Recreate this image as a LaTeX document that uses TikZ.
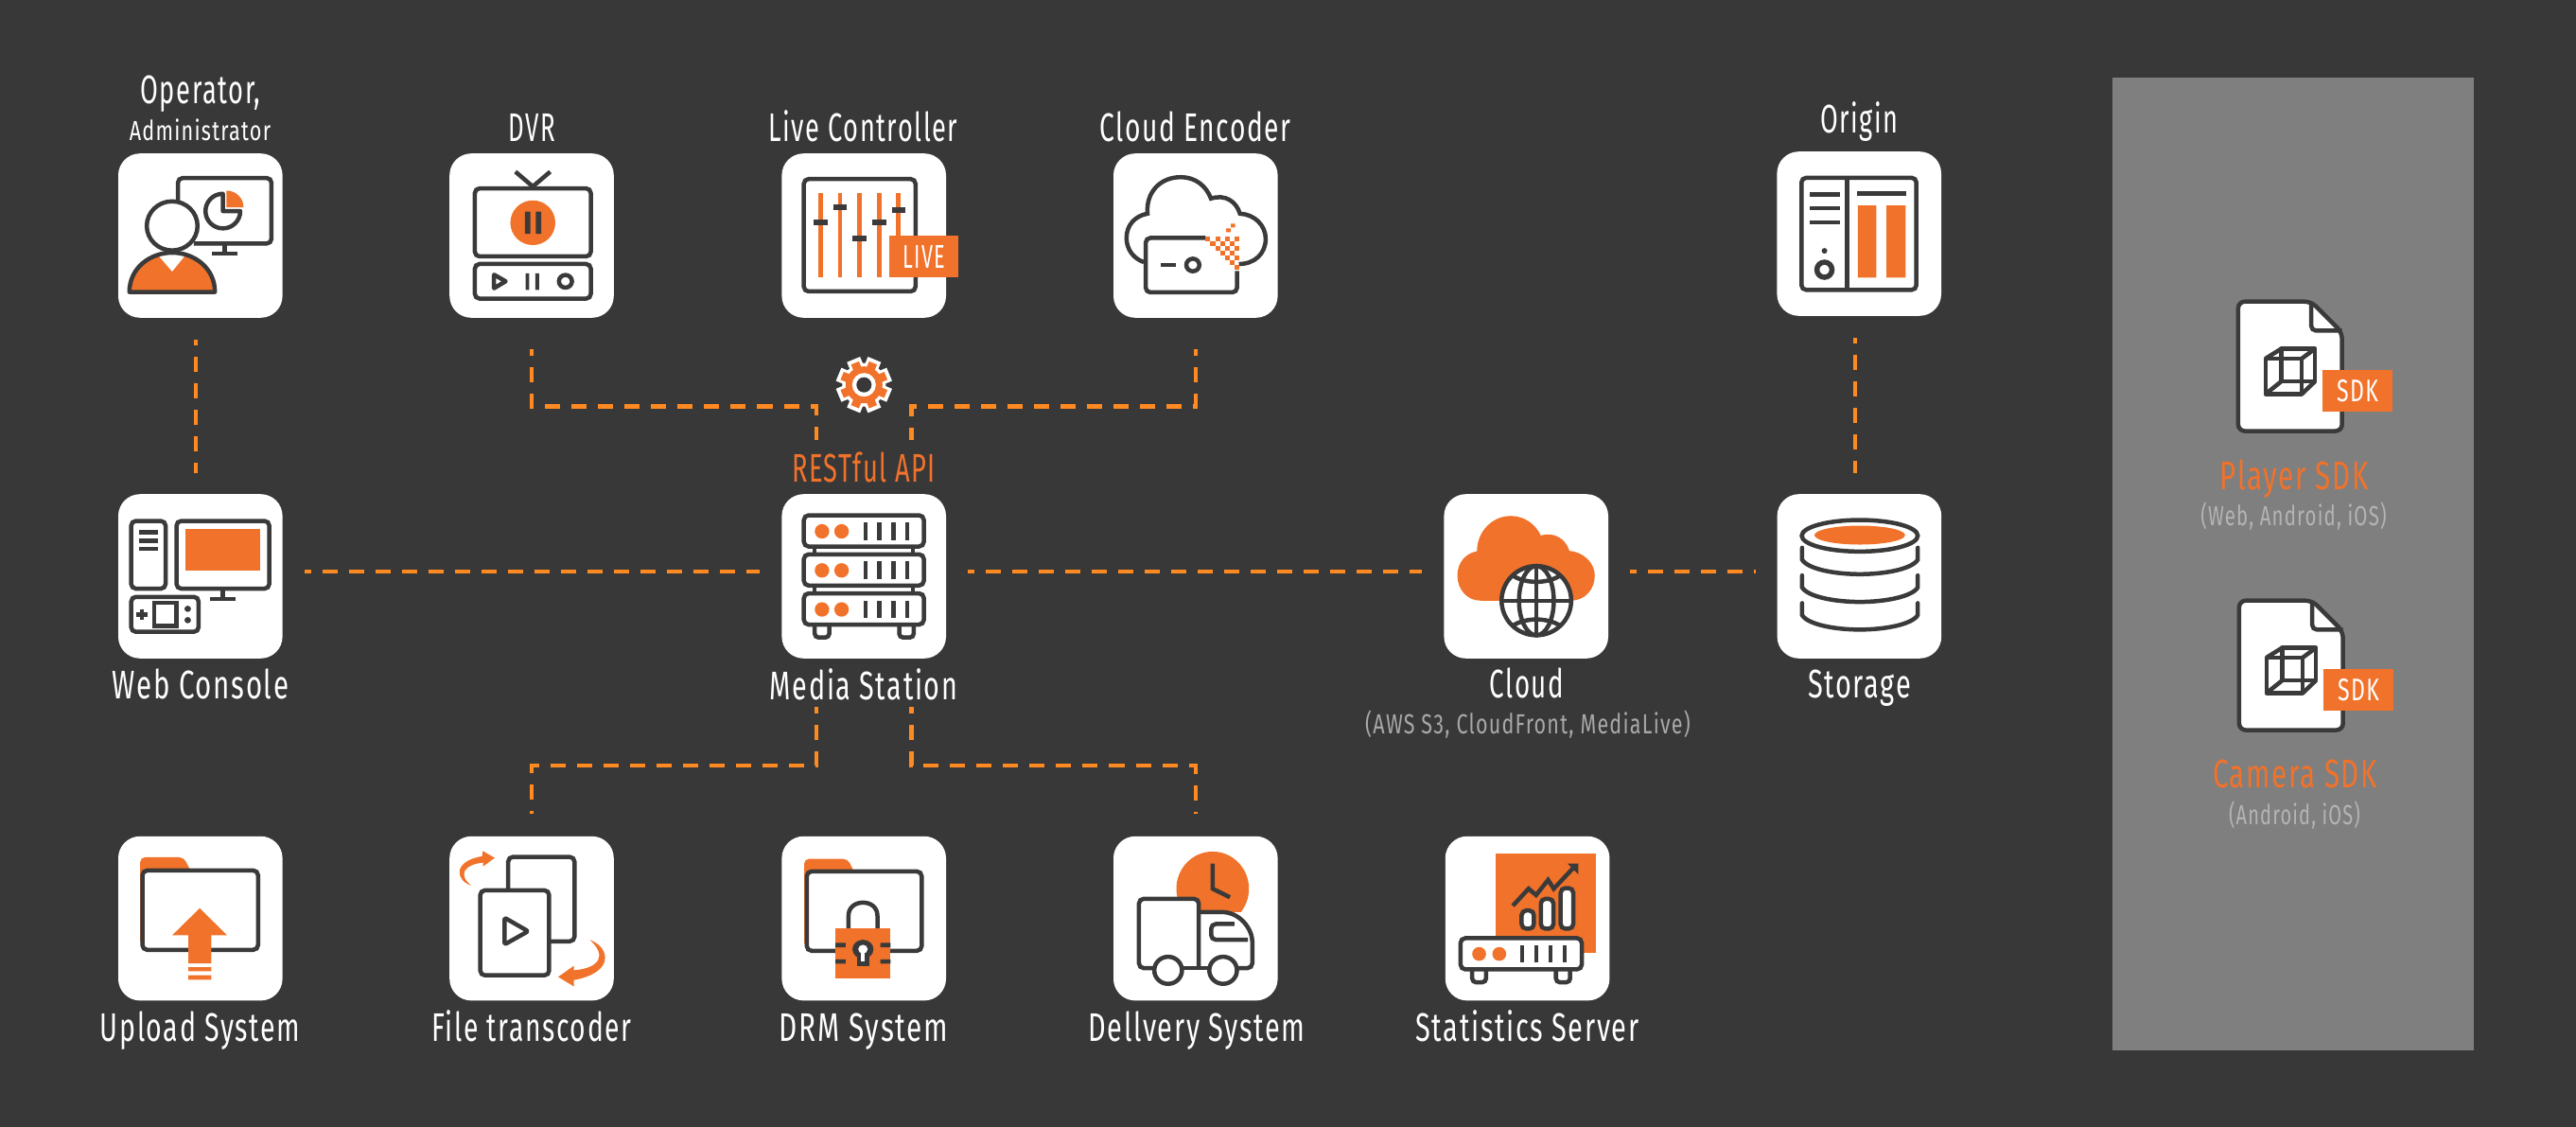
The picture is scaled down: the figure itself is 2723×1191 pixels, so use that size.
\documentclass[tikz,border=0pt]{standalone}
\usepackage{fontspec}
\newfontfamily\labf[FakeStretch=0.70,LetterSpace=4]{Fira Sans}
\newcommand{\hs}[2]{\scalebox{#1}[1]{#2}}
\definecolor{bgc}{HTML}{383838}
\definecolor{ic}{HTML}{3A3A3A}
\definecolor{org}{HTML}{F1722A}
\definecolor{dashc}{HTML}{FF8A22}
\definecolor{panelc}{HTML}{7F7F7F}
\definecolor{subc}{HTML}{A8A8A8}
\definecolor{subd}{HTML}{B4B4B4}
\tikzset{
  iconbox/.style={fill=white,rounded corners=0.23cm,minimum width=1.735cm,minimum height=1.735cm,inner sep=0,outer sep=0},
  lab/.style={anchor=base,inner sep=0,outer sep=0,text=white,font=\labf\fontsize{12}{14}\selectfont},
  smalllab/.style={lab,font=\labf\fontsize{8.3}{10}\selectfont},
  sublab/.style={lab,text=subc,font=\labf\fontsize{8.3}{10}\selectfont},
  sdklab/.style={lab,text=org,font=\labf\fontsize{12}{14}\selectfont},
  sdksub/.style={lab,text=subd,font=\labf\fontsize{8.3}{10}\selectfont},
  conn/.style={draw=dashc,line width=0.042cm,dash pattern=on 0.16cm off 0.12cm,dash phase=0.09cm},
  ln/.style={draw=ic,line width=0.045cm,rounded corners=0.05cm},
  lnw/.style={ln,fill=white},
  plain/.style={draw=ic,line width=0.045cm},
  zA/.style={x=0.003827cm,y=-0.003333cm},
  zB/.style={x=0.003333cm,y=-0.003333cm},
  zC/.style={x=0.003954cm,y=-0.003333cm},
  zD/.style={x=0.003333cm,y=-0.003827cm},
}
\newcommand{\sdkicon}[3]{%
\begin{scope}[shift={(#1,#2)},shift={(2300,290)},zD]
  \path[lnw,rounded corners=0.07cm] (198,75) -- (430,75) -- (528,160) -- (528,432) -- (198,432) -- cycle;
  \draw[ln,rounded corners=0.05cm] (430,75) -- (430,155) -- (528,155);
  \draw[plain,line join=round] (285,232) rectangle (400,330);
  \draw[plain,line join=round] (335,205) rectangle (442,295);
  \draw[plain] (285,232) -- (335,205) (400,232) -- (442,205) (285,330) -- (335,295) (400,330) -- (442,295);
  \fill[org] (467,263) rectangle (687,378);
  \node[lab,anchor=center,font=\labf\fontsize{9.4}{11}\selectfont] (#3) at (577,320) {SDK};
\end{scope}}
\begin{document}
\begin{tikzpicture}[x=0.01cm,y=-0.01cm]
\useasboundingbox (0,0) rectangle (2723,1191);
\fill[bgc] (0,0) rectangle (2723,1191);
\fill[panelc] (2233,82) rectangle (2615,1110);

% boxes
\node[iconbox] (op) at (211.8,249) {};
\node[iconbox] (dvr) at (562,249) {};
\node[iconbox] (live) at (913.2,249) {};
\node[iconbox] (enc) at (1263.8,249) {};
\node[iconbox] (origin) at (1965.2,247) {};
\node[iconbox] (web) at (211.8,609) {};
\node[iconbox] (media) at (913.2,609) {};
\node[iconbox] (cloud) at (1613.2,609) {};
\node[iconbox] (storage) at (1965.4,609) {};
\node[iconbox] (upload) at (211.8,970.6) {};
\node[iconbox] (file) at (562,970.6) {};
\node[iconbox] (drm) at (913.2,970.6) {};
\node[iconbox] (deliv) at (1263.8,970.6) {};
\node[iconbox] (stats) at (1614.6,970.6) {};

% labels
\node[lab] (tOp) at (212,110) {\hs{.922}{Operator,}};
\node[smalllab] (tAdm) at (211.5,149) {\hs{1.059}{Administrator}};
\node[lab] (tDvr) at (562,150) {\hs{.874}{DVR}};
\node[lab] (tLive) at (912.5,149.5) {\hs{.921}{Live Controller}};
\node[lab] (tEnc) at (1263.5,149.5) {\hs{.954}{Cloud Encoder}};
\node[lab] (tOrigin) at (1965.5,140.5) {\hs{.918}{Origin}};
\node[lab] (tWeb) at (212,738) {\hs{.996}{Web Console}};
\node[lab,text=org] (tRest) at (913,509) {\hs{.924}{RESTful API}};
\node[lab] (tMedia) at (913,739) {\hs{.973}{Media Station}};
\node[lab] (tCloud) at (1614,737) {\hs{.939}{Cloud}};
\node[sublab] (tAws) at (1615,775) {\hs{1.054}{(AWS S3, CloudFront, MediaLive)}};
\node[lab] (tStorage) at (1965.5,737) {\hs{.98}{Storage}};
\node[lab] (tUp) at (211.5,1100.7) {\hs{.968}{Upload System}};
\node[lab] (tFile) at (562,1100.7) {\hs{.958}{File transcoder}};
\node[lab] (tDrm) at (913,1100.7) {\hs{1.009}{DRM System}};
\node[lab] (tDel) at (1265,1100.7) {\hs{.98}{Dellvery System}};
\node[lab] (tStat) at (1614.5,1100.7) {\hs{.98}{Statistics Server}};
\node[sdklab] (tPlay) at (2425,517) {Player SDK};
\node[sdksub] (tPlaySub) at (2424.5,555) {(Web, Android, iOS)};
\node[sdklab] (tCam) at (2426,832.7) {Camera SDK};
\node[sdksub] (tCamSub) at (2425.5,871) {\hs{.98}{(Android, iOS)}};

% connectors
\coordinate (rowy) at (0,604);
\coordinate (elbTop) at (0,429.5);
\coordinate (elbBot) at (0,809);
\coordinate (mlx) at (863,0);
\coordinate (mrx) at (963.5,0);
\coordinate (opx) at (207,0);
\coordinate (orx) at (1961,0);
\draw[conn,shorten <=0.23cm,shorten >=0.23cm] (web.east |- rowy) -- (media.west |- rowy);
\draw[conn,shorten <=0.23cm,shorten >=0.23cm] (media.east |- rowy) -- (cloud.west |- rowy);
\draw[conn,shorten <=0.23cm,shorten >=0.23cm,dash phase=0.09cm] (cloud.east |- rowy) -- (storage.west |- rowy);
\draw[conn,dash phase=0.10cm,shorten <=0.23cm,shorten >=0.22cm] (op.south -| opx) -- (web.north -| opx);
\draw[conn,dash phase=0.10cm,shorten <=0.23cm,shorten >=0.22cm] (origin.south -| orx) -- (storage.north -| orx);
\draw[conn,shorten <=0.33cm,shorten >=0.57cm] (dvr.south) -- (dvr.south |- elbTop) -- (mlx |- elbTop) -- (media.north -| mlx);
\draw[conn,shorten <=0.33cm,shorten >=0.57cm] (enc.south) -- (enc.south |- elbTop) -- (mrx |- elbTop) -- (media.north -| mrx);
\draw[conn,shorten <=0.51cm,shorten >=0.24cm] (media.south -| mlx) -- (mlx |- elbBot) -- (file.north |- elbBot) -- (file.north);
\draw[conn,shorten <=0.51cm,shorten >=0.24cm] (media.south -| mrx) -- (mrx |- elbBot) -- (deliv.north |- elbBot) -- (deliv.north);

% gear
\begin{scope}[shift={(913.3,406.7)}]
  \coordinate (gear) at (0,0);
  \foreach \a in {0,45,...,315}{\fill[white,rotate=\a+22.5] (-7.5,-20) rectangle (7.5,-29);}
  \fill[white] (0,0) circle[radius=23];
  \foreach \a in {0,45,...,315}{\fill[org,rotate=\a+22.5] (-4.5,-17) rectangle (4.5,-25);}
  \fill[org] (0,0) circle[radius=19.5];
  \fill[white] (0,0) circle[radius=12.5];
  \fill[bgc] (0,0) circle[radius=8];
\end{scope}

% operator + DVR
\begin{scope}[shift={(90,60)},zA]
  \draw[ln] (256,470) -- (256,385) -- (514,385) -- (514,593) -- (300,593);
  \draw[plain] (385,593) -- (385,625) (350,625) -- (420,625);
  \fill[org] (390,478) -- (390,425) arc[start angle=-90,end angle=0,x radius=47,y radius=53] -- cycle;
  \draw[plain,fill=white,line join=round] (380,490) -- (380,435) arc[start angle=-90,end angle=-360,x radius=48,y radius=55] -- cycle;
  \fill[org] (122,747) .. controls (122,670) and (180,622) .. (240,622) .. controls (300,622) and (358,670) .. (358,747) -- cycle;
  \fill[white] (200,628) -- (240,682) -- (278,628) -- cycle;
  \draw[plain,line join=round] (122,747) .. controls (122,670) and (180,622) .. (240,622) .. controls (300,622) and (358,670) .. (358,747) -- cycle;
  \draw[plain,fill=white] (240,537) ellipse[x radius=70,y radius=78];
  % DVR
  \draw[plain] (1187,365) -- (1235,412) -- (1283,365);
  \draw[ln] (1075,418) rectangle (1395,634);
  \fill[org] (1235,527) ellipse[x radius=62,y radius=71];
  \fill[ic] (1213,492) rectangle (1228,562) (1243,492) rectangle (1258,562);
  \draw[ln] (1075,658) rectangle (1395,768);
  \draw[plain,line join=round] (1128,692) -- (1160,713) -- (1128,735) -- cycle;
  \fill[ic] (1215,688) rectangle (1225,740) (1242,688) rectangle (1252,740);
  \draw[plain] (1325,713) ellipse[x radius=18,y radius=20];
\end{scope}

% live + cloud encoder
\begin{scope}[shift={(780,100)},zA]
  \draw[ln] (182,268) rectangle (490,625);
  \foreach \x in {228,282,336,390,443}{\fill[org] (\x-6,312) rectangle (\x+6,580);}
  \foreach \x/\y in {228/407,282/359,336/456,390/407,444/367}{\fill[ic] (\x-19,\y-9) rectangle (\x+19,\y+9);}
  \fill[org] (418,448) rectangle (609,581);
  \node[lab,anchor=center,font=\labf\fontsize{9.9}{11}\selectfont] (tLiveTag) at (514,515) {\hs{.89}{LIVE}};
  % encoder
  \draw[plain] (1120,532) .. controls (1090,520) and (1072,490) .. (1072,455) .. controls (1072,415) and (1095,385) .. (1130,378) .. controls (1125,310) and (1165,262) .. (1222,262) .. controls (1262,262) and (1292,290) .. (1305,330) .. controls (1345,315) and (1375,340) .. (1385,378) .. controls (1425,380) and (1456,415) .. (1456,458) .. controls (1456,505) and (1425,538) .. (1382,538);
  \path[fill=white] (1125,455) rectangle (1377,628);
  \draw[ln] (1290,455) -- (1125,455) -- (1125,628) -- (1377,628) -- (1377,560);
  \draw[plain] (1167,541) -- (1208,541);
  \draw[plain] (1255,541) ellipse[x radius=18,y radius=20];
  \foreach \r in {0,...,6}{\foreach \c in {\r,...,6}{%
    \ifodd\numexpr\r+\c\relax\else
      \fill[org] (1290+13.3*\c,450+15.2*\r) rectangle (1290+13.3*\c+13.3,450+15.2*\r+15.2);
    \fi}}
  \fill[org] (1347,425) rectangle (1360,437) (1360,410) rectangle (1372,422);
\end{scope}

% origin
\begin{scope}[shift={(1850,100)},zB]
  \draw[ln] (163,264) rectangle (528,620);
  \draw[plain] (308,264) -- (308,620);
  \foreach \y in {317,361,405}{\fill[ic] (189,\y-6.5) rectangle (284,\y+6.5);}
  \fill[ic] (236,496) circle[radius=9];
  \draw[plain,line width=0.055cm] (236,556) circle[radius=24];
  \fill[ic] (340,308) rectangle (495,322);
  \fill[org] (342,352) rectangle (401,581) (433,352) rectangle (494,581);
\end{scope}

% web console
\begin{scope}[shift={(90,480)},zA]
  \draw[ln] (127,212) rectangle (222,427);
  \foreach \y in {247,274,300}{\fill[ic] (149,\y-7) rectangle (201,\y+7);}
  \draw[ln] (252,212) rectangle (508,427);
  \fill[org] (277,238) rectangle (483,371);
  \draw[plain] (380,427) -- (380,460) (344,460) -- (416,460);
  \draw[ln] (127,453) rectangle (313,564);
  \draw[plain] (190,472) rectangle (252,546);
  \draw[plain] (140,509) -- (172,509) (156,492) -- (156,526);
  \fill[ic] (283,491) ellipse[x radius=9,y radius=10] (283,527) ellipse[x radius=9,y radius=10];
\end{scope}

% media station
\begin{scope}[shift={(780,480)},zA]
  \foreach \t in {194,318,442}{%
    \draw[ln] (182,\t) rectangle (513,\t+99);
    \foreach \x in {232,286}{\fill[org] (\x,\t+51) ellipse[x radius=20,y radius=23];}
    \foreach \x in {352,390,429,467}{\fill[ic] (\x-6,\t+23) rectangle (\x+6,\t+78);}
  }
  \draw[plain] (212,293) -- (212,318) (483,293) -- (483,318) (212,417) -- (212,442) (483,417) -- (483,442);
  \draw[ln,rounded corners=0.04cm] (212,541) -- (212,582) -- (252,582) -- (252,541);
  \draw[ln,rounded corners=0.04cm] (445,541) -- (445,582) -- (485,582) -- (485,541);
\end{scope}

% cloud + storage
\begin{scope}[shift={(1480,480)},zA]
  \fill[org] (222,465) .. controls (185,465) and (158,430) .. (158,385) .. controls (158,345) and (180,315) .. (212,308) .. controls (212,245) and (255,196) .. (305,196) .. controls (345,196) and (375,225) .. (388,258) .. controls (425,245) and (458,270) .. (467,307) .. controls (505,310) and (537,345) .. (537,385) .. controls (537,430) and (510,465) .. (470,465) -- cycle;
  \draw[plain,fill=white] (376,465) ellipse[x radius=96,y radius=110];
  \draw[plain] (376,465) ellipse[x radius=48,y radius=110];
  \draw[plain] (376,355) -- (376,575) (280,465) -- (472,465);
  \draw[plain] (310,385) .. controls (345,412) and (407,412) .. (442,385);
  \draw[plain] (310,545) .. controls (345,518) and (407,518) .. (442,545);
  % storage
  \draw[plain] (1268,259) ellipse[x radius=160,y radius=50];
  \fill[org] (1268,257) ellipse[x radius=125,y radius=30];
  \foreach \d in {0,88,176}{%
    \draw[plain,line cap=round] (1109,297+\d) -- (1109,335+\d) .. controls (1125,365+\d) and (1200,381+\d) .. (1268,381+\d) .. controls (1336,381+\d) and (1412,365+\d) .. (1428,335+\d) -- (1428,297+\d);
  }
\end{scope}

% SDK files
\sdkicon{0}{0}{tSdkA}
\sdkicon{1}{316}{tSdkB}

% upload + file transcoder
\begin{scope}[shift={(90,860)},zA]
  \fill[org,rounded corners=0.05cm] (152,420) -- (152,138) -- (272,138) -- (295,190) -- (200,200) -- (200,420) -- cycle;
  \draw[lnw] (158,180) rectangle (477,432);
  \fill[org] (316,300) -- (392,386) -- (348,386) -- (348,475) -- (285,475) -- (285,386) -- (240,386) -- cycle;
  \fill[org] (285,487) rectangle (348,500) (285,513) rectangle (348,527);
  % file transcoder
  \draw[ln] (1167,240) -- (1167,137) -- (1350,137) -- (1350,405) -- (1280,405);
  \draw[ln] (1090,243) rectangle (1280,513);
  \draw[plain,line join=round,rounded corners=0.02cm] (1157,330) -- (1222,373) -- (1157,415) -- cycle;
  \fill[org] (1065,228) .. controls (1020,210) and (1015,150) .. (1095,135) -- (1097,118) -- (1130,140) -- (1098,167) -- (1098,155) .. controls (1050,160) and (1025,190) .. (1065,228) -- cycle;
  \fill[org] (1392,400) .. controls (1450,425) and (1460,505) .. (1348,528) -- (1348,548) -- (1305,518) -- (1348,483) -- (1348,497) .. controls (1420,490) and (1440,450) .. (1392,400) -- cycle;
\end{scope}

% DRM
\begin{scope}[shift={(780,860)},zA]
  \fill[org,rounded corners=0.05cm] (183,425) -- (183,143) -- (303,143) -- (325,195) -- (230,205) -- (230,425) -- cycle;
  \draw[lnw] (190,183) rectangle (507,435);
  \draw[plain] (305,365) -- (305,325) .. controls (305,295) and (325,282) .. (345,282) .. controls (365,282) and (385,295) .. (385,325) -- (385,365);
  \fill[org] (269,363) rectangle (421,522);
  \fill[ic] (269,410) rectangle (297,424) (393,410) rectangle (421,424) (269,462) rectangle (297,476) (393,462) rectangle (421,476);
  \fill[ic] (345,430) ellipse[x radius=29,y radius=30];
  \fill[ic] (328,445) rectangle (362,485);
  \fill[white] (345,430) ellipse[x radius=13,y radius=14];
  \fill[white] (340,435) rectangle (350,470);
\end{scope}

% delivery
\begin{scope}[shift={(1130,860)},zC]
  \begin{scope}
    \clip (250,100) rectangle (500,312);
    \fill[org] (384,238) ellipse[x radius=97,y radius=118];
  \end{scope}
  \draw[plain] (384,158) -- (384,238) -- (430,265);
  \path[fill=white] (347,312) -- (395,312) .. controls (460,312) and (490,370) .. (490,420) -- (490,490) -- (347,490) -- cycle;
  \draw[lnw] (228,490) -- (187,490) -- (187,270) -- (347,270) -- (347,490);
  \draw[ln] (347,312) -- (395,312) .. controls (460,312) and (490,370) .. (490,420) -- (490,490) -- (450,490);
  \draw[plain] (303,490) -- (375,490);
  \draw[ln] (478,400) -- (380,400) -- (380,350) -- (442,350);
  \draw[plain,fill=white] (265,497) ellipse[x radius=37,y radius=43];
  \draw[plain,fill=white] (412,497) ellipse[x radius=37,y radius=43];
\end{scope}

% statistics
\begin{scope}[shift={(1480,860)},zB]
  \fill[org] (302,125) rectangle (622,443);
  \draw[lnw] (386,307) rectangle (425,365);
  \draw[lnw] (447,270) rectangle (487,365);
  \draw[lnw] (510,236) rectangle (550,365);
  \draw[plain] (358,292) -- (408,238) -- (432,258) -- (470,210) -- (488,238) -- (552,170);
  \fill[ic] (532,158) -- (566,158) -- (566,192) -- cycle;
  \draw[lnw] (192,395) rectangle (577,494);
  \fill[org] (251,445) circle[radius=22] (315,445) circle[radius=22];
  \foreach \x in {387,432,477,522}{\fill[ic] (\x-6,418) rectangle (\x+6,472);}
  \draw[ln,rounded corners=0.04cm] (229,494) -- (229,535) -- (273,535) -- (273,494);
  \draw[ln,rounded corners=0.04cm] (495,494) -- (495,535) -- (540,535) -- (540,494);
\end{scope}
\end{tikzpicture}
\end{document}
